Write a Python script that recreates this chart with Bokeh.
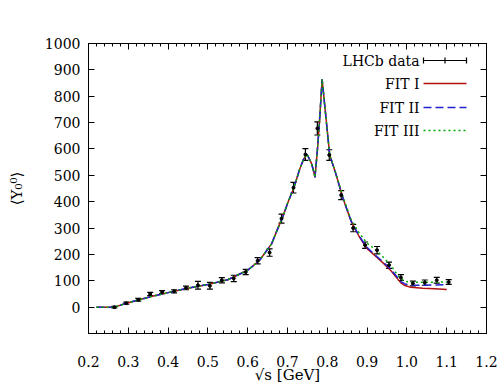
from bokeh.plotting import figure
from bokeh.models import (Range1d, FixedTicker, LinearAxis, Whisker, ColumnDataSource,
                          Label, Arrow, TeeHead)
from bokeh.embed import file_html
from bokeh.resources import INLINE

# ---- data ----
data_x = [0.265, 0.295, 0.325, 0.355, 0.385, 0.415, 0.445, 0.475, 0.505, 0.535,
          0.565, 0.595, 0.625, 0.655, 0.685, 0.715, 0.745, 0.775, 0.805, 0.835,
          0.865, 0.895, 0.925, 0.955, 0.985, 1.015, 1.045, 1.075, 1.105]
data_y = [0, 15, 28, 50, 57, 60, 73, 83, 81, 102,
          109, 133, 176, 207, 336, 453, 579, 678, 577, 425,
          300, 235, 216, 159, 112, 90, 93, 102, 95]
data_err = [3, 4, 5, 6, 6, 6, 7, 15, 13, 10,
            12, 10, 12, 14, 17, 20, 22, 25, 20, 17,
            14, 12, 14, 12, 11, 9, 10, 11, 9]

fit_x = [0.22, 0.265, 0.30, 0.33, 0.36, 0.40, 0.45, 0.50, 0.55, 0.60,
         0.63, 0.66, 0.674, 0.69, 0.70, 0.716, 0.73, 0.74, 0.749, 0.76,
         0.765, 0.769, 0.775, 0.78, 0.787, 0.79, 0.80, 0.806, 0.82, 0.84,
         0.86, 0.88, 0.90, 0.92, 0.94, 0.96, 0.975, 0.985, 0.995, 1.01,
         1.04, 1.07, 1.10]
fit1_y = [0, 0, 17, 29, 41, 55, 72, 86, 104, 140,
          178, 240, 292, 350, 393, 453, 520, 560, 580, 546,
          520, 492, 593, 695, 864, 819, 668, 577, 513, 410,
          325, 268, 222, 195, 168, 138, 110, 92, 82, 75,
          72, 70, 67]
fit2_y = [0, 0, 17, 29, 41, 55, 72, 86, 104, 140,
          178, 240, 292, 350, 393, 453, 520, 560, 580, 546,
          520, 492, 593, 695, 864, 819, 668, 577, 513, 410,
          326, 270, 226, 198, 172, 142, 115, 97, 88, 83,
          83, 84, 85]
fit3_y = [0, 0, 17, 29, 41, 55, 72, 86, 104, 140,
          178, 240, 292, 350, 393, 453, 520, 560, 580, 546,
          520, 492, 593, 695, 864, 819, 668, 577, 515, 415,
          332, 282, 242, 220, 190, 158, 125, 108, 98, 94,
          94, 95, 95]

x_ticks = [0.2, 0.3, 0.4, 0.5, 0.6, 0.7, 0.8, 0.9, 1.0, 1.1, 1.2]
x_tick_labels = ["0.2", "0.3", "0.4", "0.5", "0.6", "0.7", "0.8", "0.9", "1.0", "1.1", "1.2"]
y_ticks = [0, 100, 200, 300, 400, 500, 600, 700, 800, 900, 1000]

legend_labels = ["LHCb data", "FIT I", "FIT II", "FIT III"]

FONT = "DejaVu Serif"
FS = "14px"
RED = "#b01010"
BLUE = "#2020d0"
GREEN = "#00aa00"

p = figure(width=498, height=386, output_backend="svg", toolbar_location=None,
           x_range=Range1d(0.2, 1.2), y_range=Range1d(-100, 1000),
           min_border_left=88, min_border_right=12, min_border_top=43, min_border_bottom=53,
           x_axis_label="√s [GeV]", y_axis_label="⟨Y₀⁰⟩")
p.grid.visible = False
p.outline_line_color = "black"
p.outline_line_width = 1
p.background_fill_color = "white"
p.border_fill_color = "white"

minor_x = [round(0.2 + 0.02 * i, 2) for i in range(51)]

def style_axis(ax, labels=True, minor=True):
    ax.axis_line_color = "black"
    ax.major_tick_in = 6
    ax.major_tick_out = 0
    ax.minor_tick_in = 3
    ax.minor_tick_out = 0
    ax.major_tick_line_color = "black"
    ax.minor_tick_line_color = "black" if minor else None
    ax.major_label_text_font = FONT
    ax.major_label_text_font_size = FS
    ax.major_label_text_color = "black"
    ax.axis_label_text_font = FONT
    ax.axis_label_text_font_size = "15px"
    ax.axis_label_text_font_style = "normal"
    ax.axis_label_text_color = "black"
    if not labels:
        ax.major_label_text_alpha = 0
        ax.major_label_text_font_size = "0px"

xax = p.xaxis[0]
xax.ticker = FixedTicker(ticks=x_ticks, minor_ticks=minor_x)
xax.major_label_overrides = {t: l for t, l in zip(x_ticks, x_tick_labels)}
style_axis(xax)
xax.major_label_standoff = 22
xax.axis_label_standoff = -4

yax = p.yaxis[0]
yax.ticker = FixedTicker(ticks=y_ticks)
style_axis(yax, minor=False)
yax.major_label_standoff = 8
yax.axis_label_standoff = 16

top = LinearAxis(ticker=FixedTicker(ticks=x_ticks, minor_ticks=minor_x))
style_axis(top, labels=False)
p.add_layout(top, "above")
right = LinearAxis(ticker=FixedTicker(ticks=y_ticks))
style_axis(right, labels=False, minor=False)
p.add_layout(right, "right")

# fits
p.line(fit_x, fit1_y, line_color=RED, line_width=1.5)
p.line(fit_x, fit2_y, line_color=BLUE, line_width=1.5, line_dash="8 4")
p.line(fit_x, fit3_y, line_color=GREEN, line_width=1.5, line_dash="2 3")

# data with error bars
src = ColumnDataSource(dict(x=data_x, y=data_y,
                            lo=[y - e for y, e in zip(data_y, data_err)],
                            hi=[y + e for y, e in zip(data_y, data_err)]))
w = Whisker(source=src, base="x", lower="lo", upper="hi", line_color="black", line_width=1.2)
for head in (w.upper_head, w.lower_head):
    head.size = 6
    head.line_color = "black"
    head.line_width = 1.2
p.add_layout(w)
p.scatter("x", "y", source=src, size=3, color="black")

# legend (screen units, relative to the frame)
rows_y = [273, 250, 226, 203]
sx0, sx1, tx = 335, 378, 331
for lab, yy in zip(legend_labels, rows_y):
    p.add_layout(Label(x=tx, y=yy, x_units="screen", y_units="screen", text=lab,
                       text_font=FONT, text_font_size=FS, text_align="right",
                       text_baseline="middle", text_color="black"))
p.add_layout(Arrow(x_start=sx0, y_start=rows_y[0], x_end=sx1, y_end=rows_y[0],
                   start_units="screen", end_units="screen",
                   start=TeeHead(size=6, line_width=1.2), end=TeeHead(size=6, line_width=1.2),
                   line_color="black", line_width=1.2))
p.add_layout(Arrow(x_start=(sx0 + sx1) / 2, y_start=rows_y[0] - 3, x_end=(sx0 + sx1) / 2,
                   y_end=rows_y[0] + 3, start_units="screen", end_units="screen",
                   end=None, line_color="black", line_width=1.2))
for col, dash, yy in [(RED, "solid", rows_y[1]), (BLUE, "8 4", rows_y[2]), (GREEN, "2 3", rows_y[3])]:
    p.add_layout(Arrow(x_start=sx0, y_start=yy, x_end=sx1, y_end=yy,
                       start_units="screen", end_units="screen", end=None,
                       line_color=col, line_width=1.5, line_dash=dash))

open("out.html", "w").write(file_html(p, INLINE))
